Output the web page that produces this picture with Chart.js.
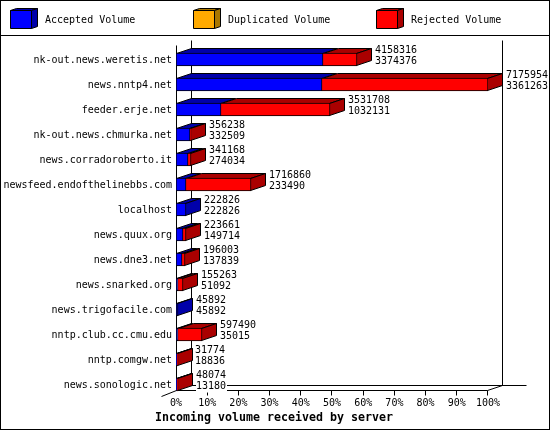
<!DOCTYPE html>
<html>
<head>
<meta charset="utf-8">
<title>Incoming volume received by server</title>
<script src="https://cdn.jsdelivr.net/npm/chart.js@4"></script>
<style>
  body { margin: 0; background: #fff; }
  canvas { display: block; }
</style>
</head>
<body>
<canvas id="myChart" width="550" height="430"></canvas>
<script>
const servers = ['nk-out.news.weretis.net', 'news.nntp4.net', 'feeder.erje.net', 'nk-out.news.chmurka.net',
  'news.corradoroberto.it', 'newsfeed.endofthelinebbs.com', 'localhost', 'news.quux.org', 'news.dne3.net',
  'news.snarked.org', 'news.trigofacile.com', 'nntp.club.cc.cmu.edu', 'nntp.comgw.net', 'news.sonologic.net'];
const accepted = [3374376, 3361263, 1032131, 332509, 274034, 233490, 222826, 149714, 137839, 51092, 45892, 35015, 18836, 13180];
const duplicated = [0, 0, 0, 0, 0, 0, 0, 0, 0, 0, 0, 0, 0, 0];
const rejected = [783940, 3814691, 2499577, 23729, 67134, 1483370, 0, 73947, 58164, 104171, 0, 562475, 12938, 34894];
const totals = [4158316, 7175954, 3531708, 356238, 341168, 1716860, 222826, 223661, 196003, 155263, 45892, 597490, 31774, 48074];
const maxVolume = 7175954;
const percentTicks = [10, 20, 30, 40, 50, 60, 70, 80, 90, 100];

const MONO = '"DejaVu Sans Mono", monospace';
const DEPTH_X = 15, DEPTH_Y = 5;
const pct = (values) => values.map((v) => v / maxVolume * 100);

function line(ctx, x1, y1, x2, y2) {
  ctx.beginPath();
  ctx.moveTo(x1 + 0.5, y1 + 0.5);
  ctx.lineTo(x2 + 0.5, y2 + 0.5);
  ctx.stroke();
}

function poly(ctx, pts, fill) {
  ctx.beginPath();
  pts.forEach((p, i) => i ? ctx.lineTo(p[0], p[1]) : ctx.moveTo(p[0], p[1]));
  ctx.closePath();
  ctx.fillStyle = fill;
  ctx.fill();
  ctx.stroke();
}

const chart3d = {
  id: 'chart3d',
  // the title is centred on the page, not on what the layout leaves for it
  afterLayout(chart) {
    chart.titleBlock.right = 548;
  },
  // snap the stacked bars to whole pixels, the reference has no blur on its edges.
  // any non zero segment keeps at least one pixel, and bars sit 1px above their label
  afterDatasetsUpdate(chart) {
    servers.forEach((name, i) => {
      let end = null;
      chart.data.datasets.forEach((ds, d) => {
        const el = chart.getDatasetMeta(d).data[i];
        const base = end === null ? Math.round(el.base) : end;
        el.base = base;
        el.x = Math.max(Math.round(el.x), base + (ds.data[i] > 0 ? 1 : 0));
        el.y -= 1;
        end = el.x;
      });
    });
  },
  beforeDatasetsDraw(chart) {
    const ctx = chart.ctx;
    const xs = chart.scales.x;
    const x0 = Math.floor(xs.getPixelForValue(0));
    const x100 = Math.floor(xs.getPixelForValue(100) - 0.01);
    ctx.save();
    ctx.strokeStyle = '#000';
    ctx.lineWidth = 1;

    // page frame and legend divider
    ctx.strokeRect(0.5, 0.5, 549, 429);
    line(ctx, 0, 35, 549, 35);

    // walls and floor of the box
    line(ctx, x0 + DEPTH_X, 40, x0 + DEPTH_X, 385);
    line(ctx, x100 + DEPTH_X, 40, x100 + DEPTH_X, 385);
    line(ctx, x0 + DEPTH_X, 385, 526, 385);
    line(ctx, x0, 45, x0, 390);
    line(ctx, x0, 390, x100, 390);
    line(ctx, x100, 390, x100 + DEPTH_X, 385);
    line(ctx, x0 - DEPTH_X, 396, x0, 390);
    percentTicks.forEach((t) => {
      const px = Math.floor(xs.getPixelForValue(t) - 0.01);
      line(ctx, px, 390, px, 395);
    });

    // top and side faces of the bars
    servers.forEach((name, i) => {
      let lastEl = null, lastDs = null;
      chart.data.datasets.forEach((ds, d) => {
        const el = chart.getDatasetMeta(d).data[i];
        if (el.x === el.base) return;
        const top = el.y - el.height / 2 + 0.5;
        const l = el.base + 0.5, r = el.x - 0.5;
        poly(ctx, [[l, top], [l + DEPTH_X, top - DEPTH_Y], [r + DEPTH_X, top - DEPTH_Y], [r, top]], ds.sideColor);
        lastEl = el;
        lastDs = ds;
      });
      if (lastEl) {
        const top = lastEl.y - lastEl.height / 2 + 0.5;
        const bottom = lastEl.y + lastEl.height / 2 - 0.5;
        const r = lastEl.x - 0.5;
        poly(ctx, [[r, top], [r + DEPTH_X, top - DEPTH_Y], [r + DEPTH_X, bottom - DEPTH_Y], [r, bottom]], lastDs.sideColor);
      }
    });
    ctx.restore();
  },
  afterDatasetsDraw(chart) {
    const ctx = chart.ctx;
    const xs = chart.scales.x;
    ctx.save();
    ctx.font = '10px ' + MONO;
    ctx.textBaseline = 'middle';
    ctx.textAlign = 'left';

    // the two numbers at the end of every bar
    servers.forEach((name, i) => {
      const y = chart.getDatasetMeta(0).data[i].y;
      const x = Math.round(xs.getPixelForValue(totals[i] / maxVolume * 100)) + DEPTH_X + 3;
      const a = String(totals[i]), b = String(accepted[i]);
      ctx.fillStyle = '#fff';
      ctx.fillRect(x, y - 14, Math.max(a.length, b.length) * 6 + 1, 22);
      ctx.fillStyle = '#000';
      ctx.fillText(a, x, y - 9);
      ctx.fillText(b, x, y + 2);
    });

    // legend, one 3d box per dataset
    const legendX = [10, 193, 376];
    ctx.strokeStyle = '#000';
    ctx.lineWidth = 1;
    chart.data.datasets.forEach((ds, d) => {
      const x = legendX[d] + 0.5, y = 10.5, w = 21, h = 18;
      poly(ctx, [[x, y], [x + 6, y - 2], [x + w + 6, y - 2], [x + w, y]], ds.sideColor);
      poly(ctx, [[x + w, y], [x + w + 6, y - 2], [x + w + 6, y + h - 2], [x + w, y + h]], ds.sideColor);
      poly(ctx, [[x, y], [x + w, y], [x + w, y + h], [x, y + h]], ds.backgroundColor);
      ctx.fillStyle = '#000';
      ctx.fillText(ds.label, legendX[d] + 35, 20);
    });
    ctx.restore();
  }
};

new Chart(document.getElementById('myChart').getContext('2d'), {
  type: 'bar',
  plugins: [chart3d],
  data: {
    labels: servers,
    datasets: [
      { label: 'Accepted Volume', data: pct(accepted), backgroundColor: '#0000ff', sideColor: '#0000aa', borderSkipped: false },
      { label: 'Duplicated Volume', data: pct(duplicated), backgroundColor: '#ffaa00', sideColor: '#aa7700', borderSkipped: false },
      { label: 'Rejected Volume', data: pct(rejected), backgroundColor: '#ff0000', sideColor: '#aa0000', borderSkipped: 'start' }
    ]
  },
  options: {
    indexAxis: 'y',
    responsive: false,
    animation: false,
    devicePixelRatio: 1,
    barThickness: 13,
    borderColor: '#000',
    borderWidth: 1,
    layout: { autoPadding: false, padding: { top: 48, right: 62, bottom: 0, left: 0 } },
    events: [],
    plugins: {
      legend: { display: false },
      tooltip: { enabled: false },
      title: {
        display: true,
        position: 'bottom',
        text: 'Incoming volume received by server',
        color: '#000',
        font: { family: MONO, size: 11.63, weight: 'bold' },
        padding: { top: 0, bottom: 5 }
      }
    },
    scales: {
      x: {
        stacked: true,
        min: 0,
        max: 100,
        grid: { display: false, drawTicks: false },
        border: { display: false },
        afterFit: (s) => { s.height = 13; },
        ticks: {
          stepSize: 10,
          padding: -1,
          maxRotation: 0,
          autoSkip: false,
          color: '#000',
          font: { family: MONO, size: 10 },
          callback: (v) => v + '%'
        }
      },
      y: {
        stacked: true,
        grid: { display: false, drawTicks: false },
        border: { display: false },
        afterFit: (s) => { s.width = 176; },
        ticks: {
          padding: 4,
          autoSkip: false,
          color: '#000',
          font: { family: MONO, size: 10 }
        }
      }
    }
  }
});
</script>
</body>
</html>
